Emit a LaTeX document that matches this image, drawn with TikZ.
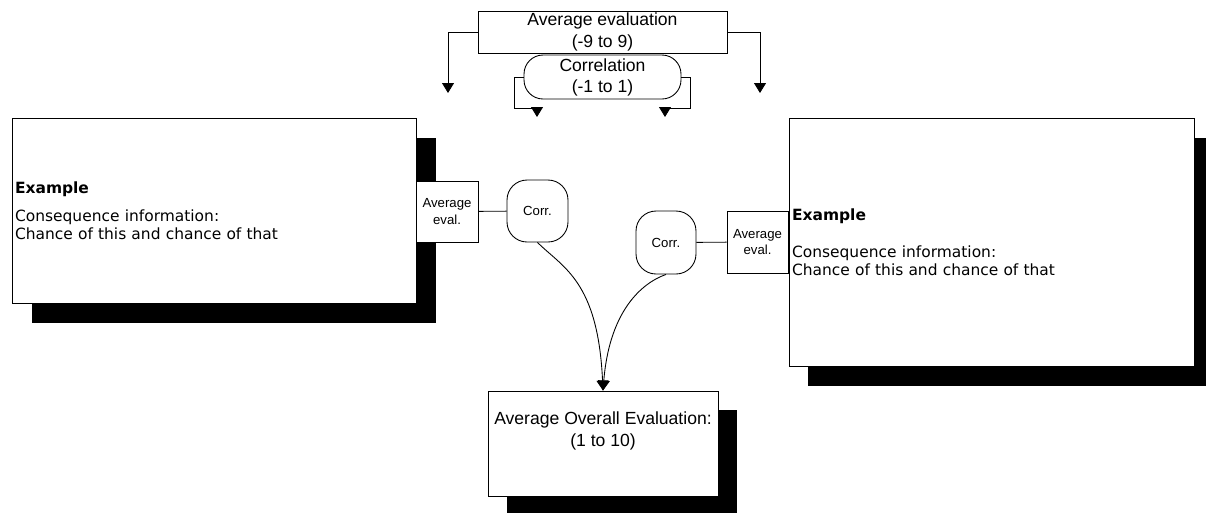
\documentclass[tikz,border=0pt]{standalone}
\usepackage{fontspec}
\setmainfont{Liberation Sans}
\newfontfamily\verd{DejaVu Sans}
\usetikzlibrary{arrows.meta,calc,positioning,backgrounds}

\begin{document}
\begin{tikzpicture}[x=0.02cm,y=-0.02cm,line width=0.5pt,
  box/.style={draw,fill=white,align=center,inner sep=0pt},
  bigbox/.style={draw,fill=white,align=left,inner xsep=0.06cm,inner ysep=0pt,font=\verd\fontsize{8.8}{10}\selectfont},
  evalbox/.style={box,font=\fontsize{7.5}{9.5}\selectfont},
  corrbox/.style={box,rounded corners=0.4cm,font=\fontsize{7.5}{9}\selectfont},
  arr/.style={-{Triangle[length=2mm,width=2.4mm]}}]
\useasboundingbox (0,0) rectangle (1206,512);
% top: scales
\node[box,minimum width=4.98cm,minimum height=0.84cm,font=\fontsize{10}{12.5}\selectfont] (avg) at (602.5,32) {Average evaluation\\(-9 to 9)};
\node[box,rounded corners=0.38cm,minimum width=3.14cm,minimum height=0.88cm,font=\fontsize{10}{12}\selectfont] (corr) at (602.5,77) {Correlation\\(-1 to 1)};
% the two examples
\node[bigbox,text width=7.96cm,minimum height=3.7cm] (lbox) at (214,210.5) {\textbf{Example}\\[6pt]Consequence information:\\Chance of this and chance of that};
\node[evalbox,minimum width=1.24cm,minimum height=1.22cm] (lavg) at (447,211.5) {Average\\eval.};
\node[corrbox,minimum width=1.22cm,minimum height=1.24cm] (lcorr) at (537.5,211) {Corr.};
\node[bigbox,text width=7.98cm,minimum height=4.96cm] (rbox) at (991.5,242) {\textbf{Example}\\[11pt]Consequence information:\\Chance of this and chance of that};
\node[evalbox,minimum width=1.22cm,minimum height=1.24cm] (ravg) at (757.5,242) {Average\\eval.};
\node[corrbox,minimum width=1.2cm,minimum height=1.26cm] (rcorr) at (666,242.5) {Corr.};
% result
\node[box,minimum width=4.6cm,minimum height=2.1cm] (obox) at (603,443.5) {};
\node[align=center,font=\fontsize{10}{12.5}\selectfont] (otext) at (603,431) {Average Overall Evaluation:\\(1 to 10)};
% shadows
\begin{scope}[on background layer]
\fill ($(lbox.north west)+(20,20)$) rectangle ($(lbox.south east)+(20,20)$);
\fill ($(rbox.north west)+(19,20)$) rectangle ($(rbox.south east)+(19,20)$);
\fill ($(obox.north west)+(19,19)$) rectangle ($(obox.south east)+(19,19)$);
\end{scope}
% connectors
\coordinate (atl) at (448,93);
\coordinate (atr) at (760,93);
\coordinate (ctl) at (537,117);
\coordinate (ctr) at (665,117);
\draw[arr] (avg.west) -| (atl);
\draw[arr] (avg.east) -| (atr);
\draw[arr] (corr.west) -- ++(-9,0) -- ++(0,31) -| (ctl);
\draw[arr] (corr.east) -- ++(9,0) -- ++(0,31) -| (ctr);
\draw (lavg) -- (lcorr);
\draw (rcorr) -- (ravg);
\draw[arr] (lcorr.south) .. controls +(25,25) and +(-5,-110) .. (obox.north);
\draw[arr] (rcorr.south) .. controls +(-28,10) and +(6,-75) .. (obox.north);
\end{tikzpicture}
\end{document}
